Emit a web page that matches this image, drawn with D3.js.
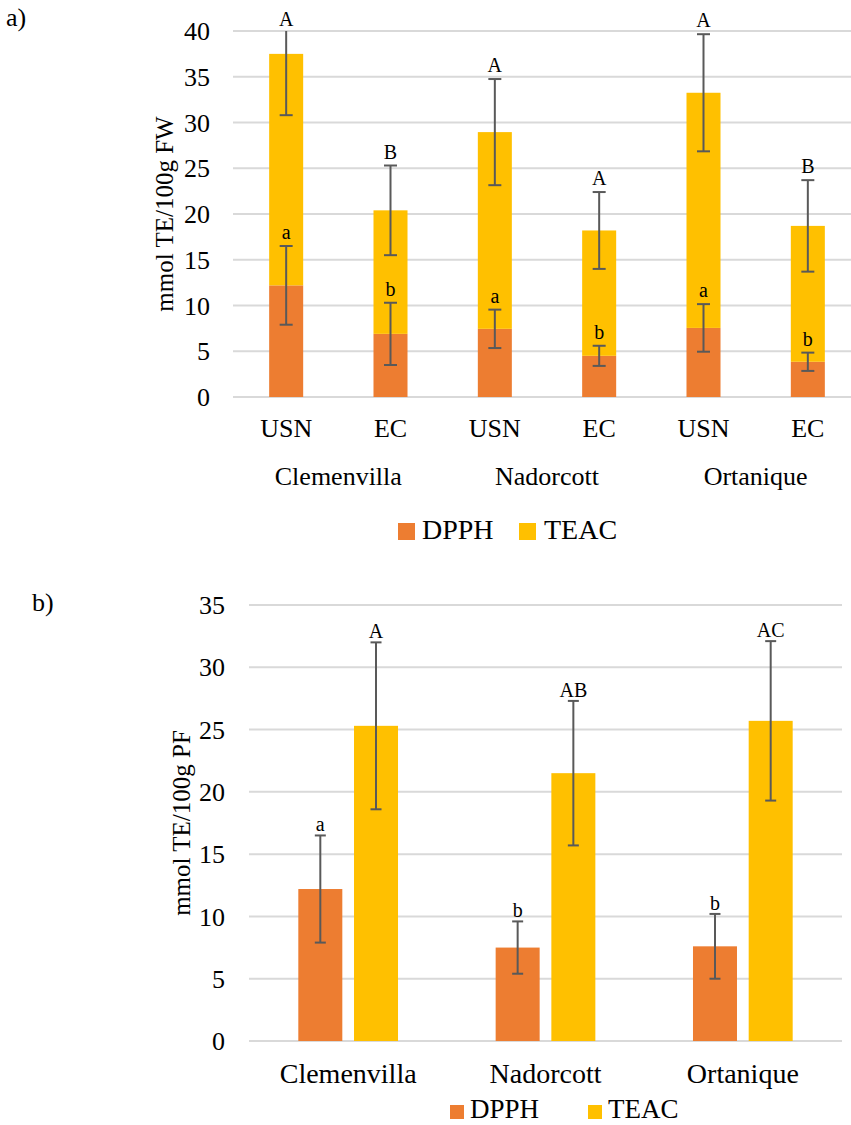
<!DOCTYPE html>
<html><head><meta charset="utf-8">
<script src="https://cdn.jsdelivr.net/npm/d3@7"></script>
<style>
body{margin:0;background:#fff;}
svg{display:block;font-family:"Liberation Serif","Times New Roman",serif;}
</style></head>
<body><svg id="c" width="851" height="1125"></svg>
<script>
// ---------- Panel a data (stacked) ----------
const cultivars = ["Clemenvilla", "Nadorcott", "Ortanique"];
const treatmentsA = ["USN", "EC", "USN", "EC", "USN", "EC"];
const dpphA = [12.2, 6.9, 7.45, 4.5, 7.55, 3.85];
const dpphErrA = [4.3, 3.4, 2.1, 1.1, 2.6, 1.0];
const teacA = [25.3, 13.5, 21.5, 13.7, 25.7, 14.85];
const totalErrA = [6.7, 4.9, 5.8, 4.2, 6.4, 5.0];
const dpphLetA = ["a", "b", "a", "b", "a", "b"];
const totalLetA = ["A", "B", "A", "A", "A", "B"];
const ticksA = [0, 5, 10, 15, 20, 25, 30, 35, 40];

// ---------- Panel b data (grouped) ----------
const dpphB = [12.2, 7.5, 7.6];
const dpphErrB = [4.3, 2.1, 2.6];
const teacB = [25.3, 21.5, 25.7];
const teacErrB = [6.7, 5.8, 6.4];
const dpphLetB = ["a", "b", "b"];
const teacLetB = ["A", "AB", "AC"];
const ticksB = [0, 5, 10, 15, 20, 25, 30, 35];

const series = ["DPPH", "TEAC"];
const colors = {DPPH: "#ED7D31", TEAC: "#FFC000"};
const gridCol = "#D9D9D9", errCol = "#595959";

const svg = d3.select("#c");

function errorBar(g, cx, yTop, yBot, capTopVisible, capW) {
  g.append("line").attr("x1", cx).attr("x2", cx).attr("y1", yTop).attr("y2", yBot)
    .attr("stroke", errCol).attr("stroke-width", 2);
  if (capTopVisible)
    g.append("line").attr("x1", cx - capW/2).attr("x2", cx + capW/2).attr("y1", yTop).attr("y2", yTop)
      .attr("stroke", errCol).attr("stroke-width", 2);
  g.append("line").attr("x1", cx - capW/2).attr("x2", cx + capW/2).attr("y1", yBot).attr("y2", yBot)
    .attr("stroke", errCol).attr("stroke-width", 2);
}

// =============== Panel a ===============
{
  const g = svg.append("g");
  const y = d3.scaleLinear().domain([0, 40]).range([397, 31]);
  const x = d3.scaleBand().domain(d3.range(6)).range([234, 860]).padding(0);
  const bw = x.step() * 0.326;

  g.selectAll(".grid").data(ticksA).join("line")
    .attr("x1", 233).attr("x2", 860)
    .attr("y1", d => y(d)).attr("y2", d => y(d))
    .attr("stroke", gridCol).attr("stroke-width", 2);
  g.selectAll(".tl").data(ticksA).join("text")
    .attr("x", 210).attr("y", d => y(d)).attr("dy", "0.35em")
    .attr("text-anchor", "end").attr("font-size", 26).text(d => d);

  const rows = d3.range(6).map(i => ({i, DPPH: dpphA[i], TEAC: teacA[i]}));
  const stack = d3.stack().keys(series)(rows);
  stack.forEach(layer => {
    g.selectAll(null).data(layer).join("rect")
      .attr("x", d => x(d.data.i) + x.bandwidth()/2 - bw/2)
      .attr("width", bw)
      .attr("y", d => y(d[1]))
      .attr("height", d => y(d[0]) - y(d[1]))
      .attr("fill", colors[layer.key]);
  });

  d3.range(6).forEach(i => {
    const cx = x(i) + x.bandwidth()/2;
    const tot = dpphA[i] + teacA[i];
    const topV = tot + totalErrA[i];
    const clipped = topV > 40;
    const yt = y(Math.min(topV, 40));
    errorBar(g, cx, yt, y(tot - totalErrA[i]), !clipped, 13);
    g.append("text").attr("x", cx).attr("y", yt - (clipped ? 5 : 7))
      .attr("text-anchor", "middle").attr("font-size", 20).text(totalLetA[i]);
    const ydt = y(dpphA[i] + dpphErrA[i]);
    errorBar(g, cx, ydt, y(dpphA[i] - dpphErrA[i]), true, 13);
    g.append("text").attr("x", cx).attr("y", ydt - 7)
      .attr("text-anchor", "middle").attr("font-size", 20).text(dpphLetA[i]);
    g.append("text").attr("x", cx).attr("y", 437)
      .attr("text-anchor", "middle").attr("font-size", 26).text(treatmentsA[i]);
  });
  cultivars.forEach((c, k) => {
    const cx = (x(2*k) + x(2*k+1) + x.bandwidth()) / 2;
    g.append("text").attr("x", cx).attr("y", 485)
      .attr("text-anchor", "middle").attr("font-size", 26).text(c);
  });
  g.append("text").attr("transform", "translate(173,214) rotate(-90)")
    .attr("text-anchor", "middle").attr("font-size", 25).text("mmol TE/100g FW");
  const leg = [{k: "DPPH", sx: 398, tx: 422}, {k: "TEAC", sx: 519, tx: 544}];
  leg.forEach(l => {
    g.append("rect").attr("x", l.sx).attr("y", 523).attr("width", 17).attr("height", 17).attr("fill", colors[l.k]);
    g.append("text").attr("x", l.tx).attr("y", 539).attr("font-size", 28).text(l.k);
  });
  g.append("text").attr("x", 6).attr("y", 26).attr("font-size", 26).text("a)");
}

// =============== Panel b ===============
{
  const g = svg.append("g");
  const y = d3.scaleLinear().domain([0, 35]).range([1041, 605]);
  const x0 = d3.scaleBand().domain(cultivars).range([249.5, 841.5]).padding(0);
  const bw = 44, gap = 11.7;
  const xOff = {DPPH: -gap/2 - bw, TEAC: gap/2};

  g.selectAll(".grid").data(ticksB).join("line")
    .attr("x1", 249).attr("x2", 842)
    .attr("y1", d => y(d)).attr("y2", d => y(d))
    .attr("stroke", gridCol).attr("stroke-width", 2);
  g.selectAll(".tl").data(ticksB).join("text")
    .attr("x", 225).attr("y", d => y(d)).attr("dy", "0.35em")
    .attr("text-anchor", "end").attr("font-size", 26).text(d => d);

  const vals = {DPPH: dpphB, TEAC: teacB};
  const errs = {DPPH: dpphErrB, TEAC: teacErrB};
  const lets = {DPPH: dpphLetB, TEAC: teacLetB};
  cultivars.forEach((c, i) => {
    const cx = x0(c) + x0.bandwidth()/2;
    series.forEach(s => {
      const bx = cx + xOff[s];
      g.append("rect").attr("x", bx).attr("width", bw)
        .attr("y", y(vals[s][i])).attr("height", y(0) - y(vals[s][i]))
        .attr("fill", colors[s]);
      const ex = bx + bw/2;
      const yt = y(vals[s][i] + errs[s][i]);
      errorBar(g, ex, yt, y(vals[s][i] - errs[s][i]), true, 11);
      g.append("text").attr("x", ex).attr("y", yt - 4)
        .attr("text-anchor", "middle").attr("font-size", 20).text(lets[s][i]);
    });
    g.append("text").attr("x", cx).attr("y", 1083)
      .attr("text-anchor", "middle").attr("font-size", 28).text(c);
  });
  g.append("text").attr("transform", "translate(190,823) rotate(-90)")
    .attr("text-anchor", "middle").attr("font-size", 25).text("mmol TE/100g PF");
  const leg = [{k: "DPPH", sx: 450, tx: 470}, {k: "TEAC", sx: 588, tx: 608}];
  leg.forEach(l => {
    g.append("rect").attr("x", l.sx).attr("y", 1105).attr("width", 14).attr("height", 14).attr("fill", colors[l.k]);
    g.append("text").attr("x", l.tx).attr("y", 1118).attr("font-size", 27).text(l.k);
  });
  g.append("text").attr("x", 32).attr("y", 611).attr("font-size", 26).text("b)");
}
</script></body></html>
